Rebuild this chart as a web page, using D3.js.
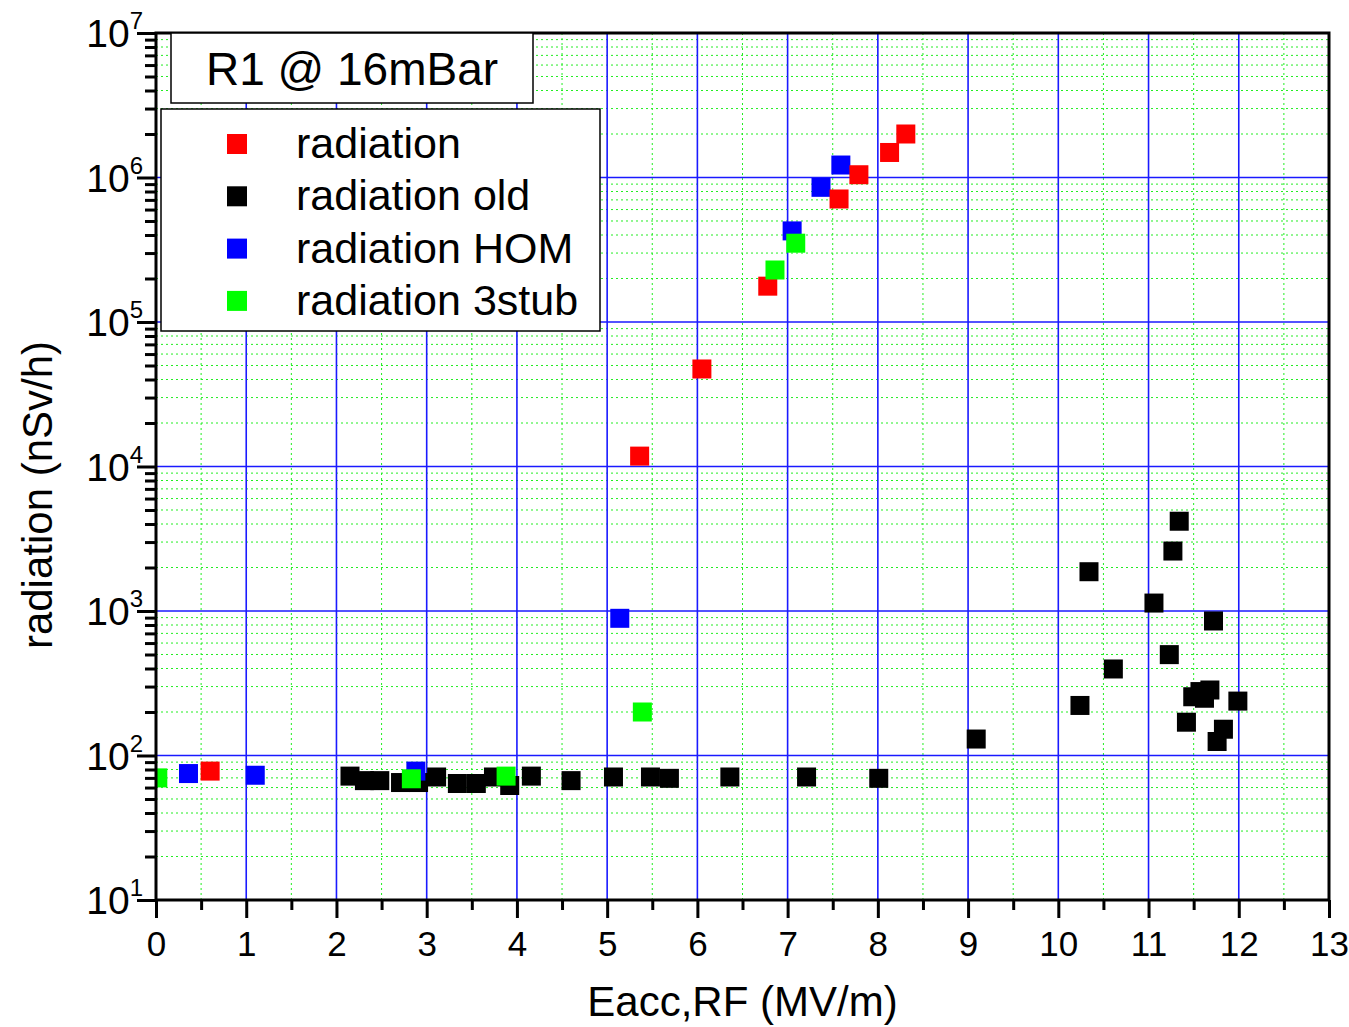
<!DOCTYPE html>
<html>
<head>
<meta charset="utf-8">
<script src="https://cdn.jsdelivr.net/npm/d3@7"></script>
<style>
  body { margin: 0; background: #fff; }
  svg { font-family: "Liberation Sans", Arial, sans-serif; }
</style>
</head>
<body>
<div id="chart"></div>
<script>
// values
var radX = [0.60, 5.36, 6.05, 6.78, 7.57, 7.79, 8.13, 8.31];
var radY = [78, 11800, 47300, 177000, 710000, 1045000, 1490000, 2000000];

var oldX = [2.15, 2.31, 2.48, 2.71, 2.91, 3.11, 3.34, 3.55, 3.74, 3.92, 4.16, 4.60, 5.07, 5.48, 5.69, 6.36, 7.21, 8.01,
            9.09, 10.24, 10.34, 10.61, 11.06, 11.23, 11.27, 11.34, 11.42, 11.49, 11.57, 11.62, 11.68, 11.72, 11.76, 11.83, 11.99];
var oldY = [72, 67, 67, 65, 65, 71, 64, 64, 71, 62, 72, 67, 71, 71, 69.5, 71, 71, 69.5,
            130, 222, 1870, 397, 1135, 499, 2600, 4180, 170, 255, 277, 249, 284, 853, 125, 152, 238];

var homX = [0.36, 1.10, 2.88, 5.14, 7.05, 7.37, 7.59];
var homY = [75, 73, 78, 890, 427000, 855000, 1220000];

var stubX = [0.02, 2.83, 3.88, 5.39, 6.86, 7.09];
var stubY = [70, 69, 72, 200, 229000, 351000];

var seriesNames = ["radiation", "radiation old", "radiation HOM", "radiation 3stub"];
var seriesColors = ["#ff0000", "#000000", "#0000ff", "#00ff00"];
var xTicks = [0, 1, 2, 3, 4, 5, 6, 7, 8, 9, 10, 11, 12, 13];
var yExps = [1, 2, 3, 4, 5, 6, 7];

var W = 1349, H = 1027;
var margin = {top: 33, right: 20, bottom: 127, left: 156};
var width = 1329 - margin.left;
var height = 900 - margin.top;

var svg = d3.select("#chart").append("svg")
    .attr("width", W).attr("height", H)
    .append("g")
    .attr("transform", "translate(" + margin.left + "," + margin.top + ")");

var xscale = d3.scaleLinear().domain([0, 13]).range([0, width]);
var yscale = d3.scaleLog().domain([10, 1e7]).range([height, 0]);

// minor grid (green dotted)
var xMinor = d3.range(0.5, 13, 1);
var yMinor = [];
yExps.slice(0, -1).forEach(function (e) {
    for (var m = 2; m <= 9; m++) yMinor.push(m * Math.pow(10, e));
});
svg.append("g").selectAll("line").data(xMinor).enter().append("line")
    .attr("x1", function (d) { return xscale(d); }).attr("x2", function (d) { return xscale(d); })
    .attr("y1", 0).attr("y2", height)
    .attr("stroke", "#22ee22").attr("stroke-width", 1).attr("stroke-dasharray", "2,3");
svg.append("g").selectAll("line").data(yMinor).enter().append("line")
    .attr("x1", 0).attr("x2", width)
    .attr("y1", function (d) { return yscale(d); }).attr("y2", function (d) { return yscale(d); })
    .attr("stroke", "#22ee22").attr("stroke-width", 1).attr("stroke-dasharray", "2,3");

// major grid (blue)
svg.append("g").selectAll("line").data(xTicks.slice(1, -1)).enter().append("line")
    .attr("x1", function (d) { return xscale(d); }).attr("x2", function (d) { return xscale(d); })
    .attr("y1", 0).attr("y2", height)
    .attr("stroke", "#1a1aff").attr("stroke-width", 1.6);
svg.append("g").selectAll("line").data(yExps.slice(1, -1)).enter().append("line")
    .attr("x1", 0).attr("x2", width)
    .attr("y1", function (d) { return yscale(Math.pow(10, d)); }).attr("y2", function (d) { return yscale(Math.pow(10, d)); })
    .attr("stroke", "#1a1aff").attr("stroke-width", 1.6);

// points, drawn old -> HOM -> radiation -> 3stub
var sq = 19;
function drawSeries(xs, ys, col) {
    var pts = xs.map(function (x, i) { return [x, ys[i]]; });
    svg.append("g").selectAll("rect").data(pts).enter().append("rect")
        .attr("x", function (d) { return xscale(d[0]) - sq / 2; })
        .attr("y", function (d) { return yscale(d[1]) - sq / 2; })
        .attr("width", sq).attr("height", sq)
        .attr("fill", col);
}
var clip = svg.append("clipPath").attr("id", "clip").append("rect")
    .attr("x", 0).attr("y", 0).attr("width", width).attr("height", height);
drawSeries(oldX, oldY, seriesColors[1]);
drawSeries(homX, homY, seriesColors[2]);
drawSeries(radX, radY, seriesColors[0]);
drawSeries(stubX, stubY, seriesColors[3]);
svg.selectAll("rect").attr("clip-path", "url(#clip)");

// frame
svg.append("rect").attr("x", 0).attr("y", 0).attr("width", width).attr("height", height)
    .attr("fill", "none").attr("stroke", "#000").attr("stroke-width", 3);

// x axis
var xaxis = d3.axisBottom(xscale).tickValues(xTicks).tickSize(18).tickPadding(13).tickFormat(d3.format("d"));
var gx = svg.append("g").attr("transform", "translate(0," + height + ")").call(xaxis);
gx.select(".domain").remove();
gx.selectAll(".tick line").attr("stroke-width", 3);
gx.selectAll(".tick text").attr("font-size", 35).attr("font-family", "Liberation Sans, Arial, sans-serif").attr("fill", "#000");
var xm = d3.axisBottom(xscale).tickValues(xMinor).tickSize(10).tickFormat("");
var gxm = svg.append("g").attr("transform", "translate(0," + height + ")").call(xm);
gxm.select(".domain").remove();
gxm.selectAll(".tick line").attr("stroke-width", 3);

// y axis
var yaxis = d3.axisLeft(yscale).tickValues(yExps.map(function (e) { return Math.pow(10, e); })).tickSize(19).tickFormat("");
var gy = svg.append("g").call(yaxis);
gy.select(".domain").remove();
gy.selectAll(".tick line").attr("stroke-width", 3);
var ym = d3.axisLeft(yscale).tickValues(yMinor).tickSize(11).tickFormat("");
var gym = svg.append("g").call(ym);
gym.select(".domain").remove();
gym.selectAll(".tick line").attr("stroke-width", 3);

var ylab = svg.append("g").selectAll("text").data(yExps).enter().append("text")
    .attr("x", -13).attr("y", function (d) { return yscale(Math.pow(10, d)) + 14; })
    .attr("text-anchor", "end").attr("fill", "#000");
ylab.append("tspan").attr("font-size", 39).text("10");
ylab.append("tspan").attr("font-size", 24).attr("dy", -18).text(function (d) { return d; });

// axis titles
svg.append("text")
    .attr("x", width / 2).attr("y", height + 116)
    .attr("text-anchor", "middle").attr("font-size", 42).attr("fill", "#000")
    .text("Eacc,RF (MV/m)");
svg.append("text")
    .attr("transform", "rotate(-90)")
    .attr("x", -(495 - margin.top)).attr("y", 52 - margin.left)
    .attr("text-anchor", "middle").attr("font-size", 42).attr("fill", "#000")
    .text("radiation (nSv/h)");

// title box
svg.append("rect").attr("x", 171 - margin.left).attr("y", 0).attr("width", 362).attr("height", 70)
    .attr("fill", "#fff").attr("stroke", "#000").attr("stroke-width", 1.5);
svg.append("text").attr("x", 352 - margin.left).attr("y", 85 - margin.top)
    .attr("text-anchor", "middle").attr("font-size", 46).attr("fill", "#000")
    .text("R1 @ 16mBar");

// legend
var leg = svg.append("g").attr("transform", "translate(" + (161 - margin.left) + "," + (109 - margin.top) + ")");
leg.append("rect").attr("width", 439).attr("height", 222)
    .attr("fill", "#fff").attr("stroke", "#000").attr("stroke-width", 1.5);
var items = leg.selectAll("g.item").data(seriesNames).enter().append("g")
    .attr("transform", function (d, i) { return "translate(0," + (35 + i * 52.3) + ")"; });
items.append("rect").attr("x", 66).attr("y", -10).attr("width", 20).attr("height", 20)
    .attr("fill", function (d, i) { return seriesColors[i]; });
items.append("text").attr("x", 135).attr("y", 14).attr("font-size", 43).attr("fill", "#000")
    .text(function (d) { return d; });
</script>
</body>
</html>
